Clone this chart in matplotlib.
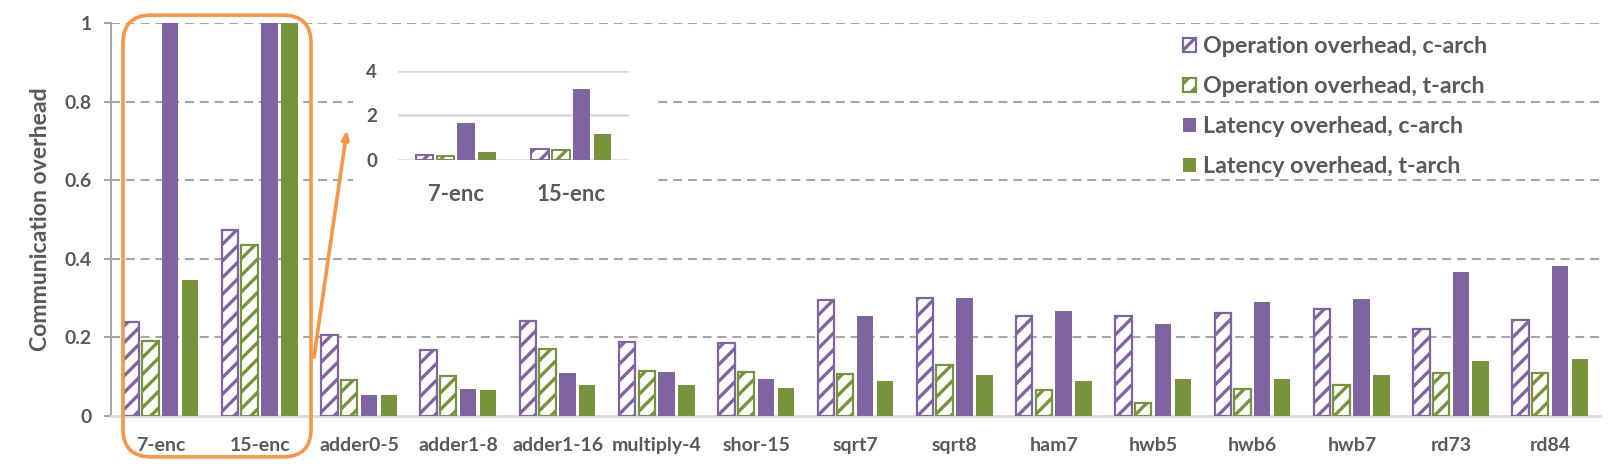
import matplotlib
matplotlib.use("Agg")
import matplotlib.pyplot as plt
import numpy as np
from matplotlib.patches import FancyBboxPatch, Rectangle
from matplotlib.transforms import IdentityTransform

categories = ["7-enc", "15-enc", "adder0-5", "adder1-8", "adder1-16", "multiply-4",
              "shor-15", "sqrt7", "sqrt8", "ham7", "hwb5", "hwb6", "hwb7", "rd73", "rd84"]
op_c = [0.239, 0.473, 0.206, 0.168, 0.242, 0.188, 0.185, 0.296, 0.299, 0.255, 0.255, 0.261, 0.271, 0.222, 0.245]
op_t = [0.190, 0.435, 0.091, 0.103, 0.170, 0.114, 0.111, 0.106, 0.129, 0.065, 0.034, 0.068, 0.079, 0.109, 0.109]
lat_c = [1.65, 3.18, 0.053, 0.068, 0.109, 0.112, 0.094, 0.254, 0.300, 0.266, 0.233, 0.290, 0.297, 0.367, 0.382]
lat_t = [0.345, 1.15, 0.053, 0.066, 0.079, 0.079, 0.071, 0.089, 0.104, 0.089, 0.094, 0.095, 0.105, 0.141, 0.146]
series_labels = ["Operation overhead, c-arch", "Operation overhead, t-arch",
                 "Latency overhead, c-arch", "Latency overhead, t-arch"]
inset_categories = ["7-enc", "15-enc"]
yticks_main = [0, 0.2, 0.4, 0.6, 0.8, 1]
ytick_labels_main = ["0", "0.2", "0.4", "0.6", "0.8", "1"]
yticks_inset = [0, 2, 4]

PURPLE = "#8064A2"
GREEN = "#77933C"
TXT = "#595959"
ORANGE = "#F79646"

plt.rcParams['font.family'] = ['Lato', 'DejaVu Sans']
plt.rcParams['font.weight'] = 'bold'
plt.rcParams['axes.labelweight'] = 'bold'
plt.rcParams['hatch.linewidth'] = 2.4

W, H = 1624, 471
fig = plt.figure(figsize=(W / 100, H / 100), dpi=100)
renderer = fig.canvas.get_renderer()

def fit_size(s, target_px):
    t = fig.text(0, 0, s, fontsize=10, fontweight='bold')
    w = t.get_window_extent(renderer).width
    t.remove()
    return 10 * target_px / w

fs_xtick = fit_size("adder0-5", 80)
fs_ytick = fit_size("0.8", 27)
fs_ylabel = fit_size("Communication overhead", 265)
fs_leg = fit_size("Operation overhead, c-arch", 285)
fs_ixtick = fit_size("15-enc", 69)
fs_iytick = fit_size("4", 11)

ax = fig.add_axes([111 / W, 1 - 416 / H, (1600 - 111) / W, 393 / H])
ax.set_zorder(0)

x = np.arange(len(categories))
bw = 0.165
offs = [-0.3, -0.103, 0.097, 0.298]

def draw_bars(a, xs, offsets, width, lw):
    n = len(xs)
    b1 = a.bar(xs + offsets[0], op_c[:n], width, facecolor="white", edgecolor=PURPLE,
               hatch="//", linewidth=lw, zorder=3)
    b2 = a.bar(xs + offsets[1], op_t[:n], width, facecolor="white", edgecolor=GREEN,
               hatch="//", linewidth=lw, zorder=3)
    b3 = a.bar(xs + offsets[2], lat_c[:n], width, color=PURPLE, linewidth=0, zorder=3)
    b4 = a.bar(xs + offsets[3], lat_t[:n], width, color=GREEN, linewidth=0, zorder=3)
    return b1, b2, b3, b4

bars = draw_bars(ax, x, offs, bw, 1.6)

ax.set_xlim(-0.5, len(categories) - 0.5)
ax.set_ylim(0, 1)
ax.set_yticks(yticks_main)
ax.set_yticklabels(ytick_labels_main)
ax.set_xticks(x)
ax.set_xticklabels(categories)
ax.tick_params(axis='x', length=0, pad=15, labelsize=fs_xtick, labelcolor=TXT)
ax.tick_params(axis='y', length=5, width=1.5, color="#A6A6A6", pad=9, labelsize=fs_ytick, labelcolor=TXT)
for s in ["top", "right"]:
    ax.spines[s].set_visible(False)
ax.spines["left"].set_color("#A6A6A6")
ax.spines["left"].set_linewidth(1.5)
ax.spines["bottom"].set_color("#D9D9D9")
ax.spines["bottom"].set_linewidth(2)
for yv in yticks_main[1:]:
    ax.axhline(yv, color="#A6A6A6", linewidth=1.5, linestyle=(0, (4.3, 2.8)), zorder=1)
ax.set_ylabel("Communication overhead", fontsize=fs_ylabel, color=TXT)
ax.yaxis.set_label_coords((51 - 111) / (1600 - 111), 0.5)

fpx = fs_leg * 100 / 72
leg = ax.legend(list(bars), series_labels, loc="upper left",
                bbox_to_anchor=(1183 / W, (H - 36) / H), bbox_transform=fig.transFigure,
                frameon=False, fontsize=fs_leg, handlelength=13 / fpx, handleheight=12 / fpx,
                labelspacing=(47 - 1.2 * fpx) / fpx, handletextpad=7 / fpx,
                borderpad=0, borderaxespad=0)
for t in leg.get_texts():
    t.set_color(TXT)

# white cover behind inset (hides main gridlines there)
cover = Rectangle((353, H - 212), 302, 178, transform=IdentityTransform(),
                  facecolor="white", edgecolor="none", zorder=1)
fig.patches.append(cover)

# inset
iax = fig.add_axes([398 / W, 1 - 160 / H, 231 / W, 89 / H])
iax.set_zorder(2)
xi = np.arange(len(inset_categories))
ioffs = [-0.27, -0.09, 0.09, 0.27]
draw_bars(iax, xi, ioffs, 0.15, 1.4)
iax.set_xlim(-0.5, len(inset_categories) - 0.5)
iax.set_ylim(0, 4)
iax.set_yticks(yticks_inset)
iax.set_xticks(xi)
iax.set_xticklabels(inset_categories)
iax.tick_params(axis='x', length=0, pad=17, labelsize=fs_ixtick, labelcolor=TXT)
iax.tick_params(axis='y', length=0, pad=15, labelsize=fs_iytick, labelcolor=TXT)
for s in iax.spines.values():
    s.set_visible(False)
for yv in yticks_inset:
    iax.axhline(yv, color="#D9D9D9", linewidth=1.8, zorder=1)

# orange box around first two groups and arrow
p0 = ax.transData.transform((-0.379, -0.104))
p1 = ax.transData.transform((1.515, 1.02))
box = FancyBboxPatch((p0[0], p0[1]), p1[0] - p0[0], p1[1] - p0[1],
                     boxstyle="round,pad=0,rounding_size=28", transform=IdentityTransform(),
                     facecolor="none", edgecolor=ORANGE, linewidth=2.6, zorder=5)
fig.patches.append(box)
ax.annotate("", xy=(1.877, 0.728), xytext=(1.545, 0.15), xycoords="data",
            arrowprops=dict(arrowstyle="-|>,head_length=0.5,head_width=0.2",
                            color=ORANGE, lw=2.6, shrinkA=0, shrinkB=0),
            annotation_clip=False, zorder=6)

fig.savefig("out.png", dpi=100)
